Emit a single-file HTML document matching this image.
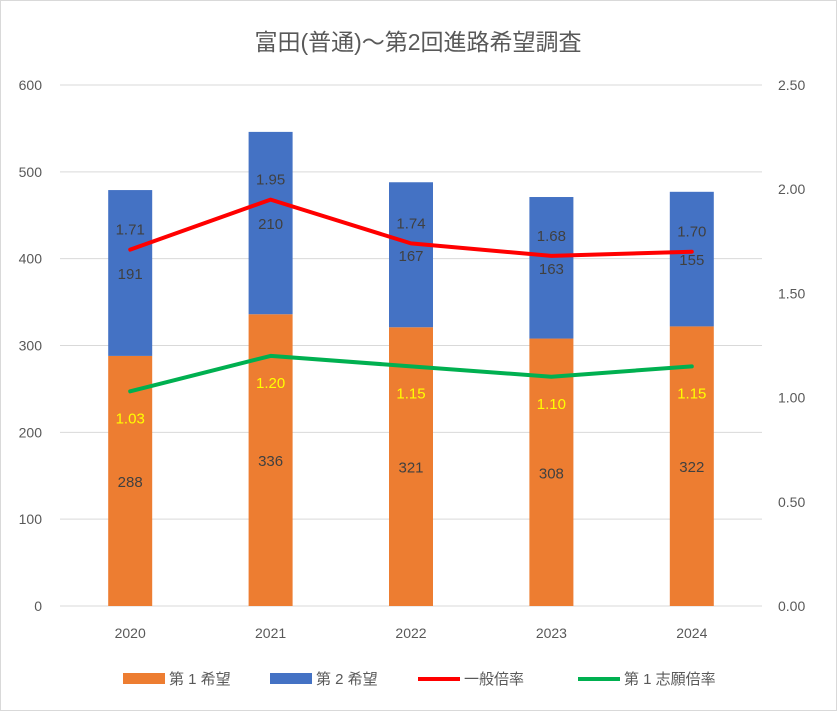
<!DOCTYPE html>
<html><head><meta charset="utf-8"><style>
body{margin:0;background:#fff}
svg text{font-family:"Liberation Sans","Noto Sans CJK JP",sans-serif}
</style></head><body>
<svg id="c" width="837" height="711" xmlns="http://www.w3.org/2000/svg">
<rect x="0.5" y="0.5" width="836" height="710" fill="#fff" stroke="#d9d9d9"/>
<text x="418" y="50" text-anchor="middle" font-size="23" fill="#595959">富田(普通)～第2回進路希望調査</text>
<g id="grid"></g><g id="bars"></g><g id="lines"></g><g id="labels"></g><g id="axes"></g>
<g font-size="15" fill="#595959">
<rect x="123" y="673" width="42" height="11" fill="#ED7D31"/>
<text x="169" y="684">第 1 希望</text>
<rect x="270" y="673" width="42" height="11" fill="#4472C4"/>
<text x="316" y="684">第 2 希望</text>
<line x1="418" y1="679" x2="460" y2="679" stroke="#FF0000" stroke-width="4"/>
<text x="464" y="684">一般倍率</text>
<line x1="578" y1="679" x2="620" y2="679" stroke="#00B050" stroke-width="4"/>
<text x="624" y="684">第 1 志願倍率</text>
</g>
</svg>
<script>
const categories=["2020","2021","2022","2023","2024"];
const first=[288,336,321,308,322];
const second=[191,210,167,163,155];
const general=[1.71,1.95,1.74,1.68,1.70];
const firstRatio=[1.03,1.20,1.15,1.10,1.15];
const leftTicks=[0,100,200,300,400,500,600];
const rightTicks=["0.00","0.50","1.00","1.50","2.00","2.50"];
const NS="http://www.w3.org/2000/svg";
const X0=60,X1=762,Y0=606,Y1=85;
const yL=v=>Y0-(v/600)*(Y0-Y1);
const yR=v=>Y0-(v/2.5)*(Y0-Y1);
const bw=(X1-X0)/categories.length;
const xC=i=>X0+bw*(i+0.5);
function mk(p,tag,attrs,txt){const e=document.createElementNS(NS,tag);for(const k in attrs)e.setAttribute(k,attrs[k]);if(txt!==undefined)e.textContent=txt;document.getElementById(p).appendChild(e);return e;}
leftTicks.forEach(t=>{
 const g=mk('grid','line',{x1:X0,x2:X1,y1:yL(t),y2:yL(t),stroke:'#d9d9d9','stroke-width':1});
 
 
 const l=mk('axes','text',{x:42,y:yL(t)+5,'text-anchor':'end','font-size':14,fill:'#595959'},t);
 
 
});
rightTicks.forEach(t=>{
 const l=mk('axes','text',{x:778,y:yR(+t)+5,'font-size':14,fill:'#595959'},t);
 
 
});
categories.forEach((c,i)=>{
 const l=mk('axes','text',{x:xC(i),y:638,'text-anchor':'middle','font-size':14,fill:'#595959'},c);
 
 
 const a=mk('bars','rect',{x:xC(i)-22,width:44,y:yL(first[i]),height:Y0-yL(first[i]),fill:'#ED7D31'});
 
 
 const b=mk('bars','rect',{x:xC(i)-22,width:44,y:yL(first[i]+second[i]),height:yL(first[i])-yL(first[i]+second[i]),fill:'#4472C4'});
 
 
 const t1=mk('labels','text',{x:xC(i),y:yL(first[i]/2)+6,'text-anchor':'middle','font-size':15,fill:'#404040'},first[i]);
 
 
 const t2=mk('labels','text',{x:xC(i),y:yL(first[i]+second[i]/2)+6,'text-anchor':'middle','font-size':15,fill:'#404040'},second[i]);
 
 
 const t3=mk('labels','text',{x:xC(i),y:yR(general[i])-15,'text-anchor':'middle','font-size':15,fill:'#404040'},general[i].toFixed(2));
 
 
 const t4=mk('labels','text',{x:xC(i),y:yR(firstRatio[i])+32,'text-anchor':'middle','font-size':15,fill:'#FFFF00'},firstRatio[i].toFixed(2));
 
 
});
const lg=mk('lines','polyline',{points:general.map((v,i)=>xC(i)+','+yR(v)).join(' '),fill:'none',stroke:'#FF0000','stroke-width':4,'stroke-linejoin':'round','stroke-linecap':'round'});


const lf=mk('lines','polyline',{points:firstRatio.map((v,i)=>xC(i)+','+yR(v)).join(' '),fill:'none',stroke:'#00B050','stroke-width':4,'stroke-linejoin':'round','stroke-linecap':'round'});


</script>
</body></html>
